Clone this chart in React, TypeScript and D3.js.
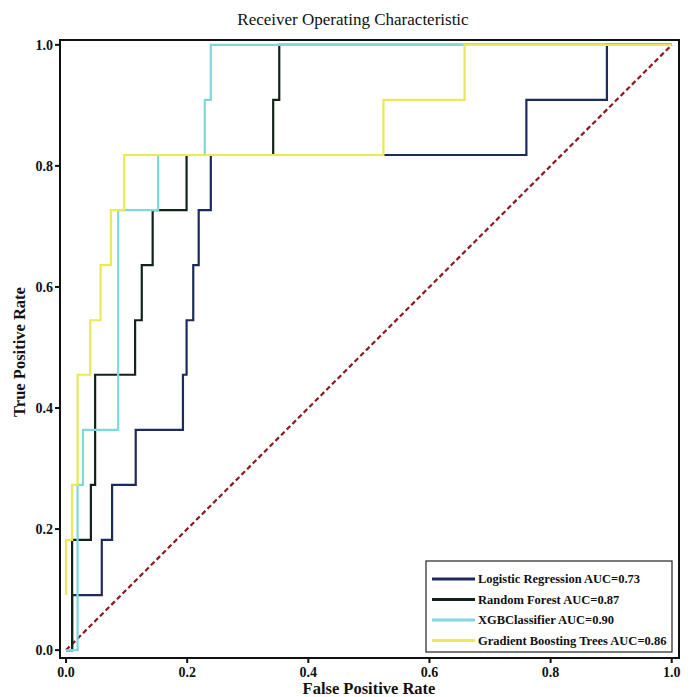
import React from "react";
import * as d3 from "d3";

const seriesNames = [
  "Logistic Regression AUC=0.73",
  "Random Forest AUC=0.87",
  "XGBClassifier AUC=0.90",
  "Gradient Boosting Trees AUC=0.86",
];
const seriesColors = ["#1d2a5c", "#12241a", "#7fd9dc", "#e9ea55"];

// ROC points (step curves)
const lrFpr = [0, 0.01, 0.01, 0.059, 0.059, 0.076, 0.076, 0.115, 0.115, 0.193, 0.193, 0.199, 0.199, 0.21, 0.21, 0.219, 0.219, 0.239, 0.239, 0.76, 0.76, 0.893, 0.893, 1.0];
const lrTpr = [0, 0, 0.091, 0.091, 0.182, 0.182, 0.273, 0.273, 0.364, 0.364, 0.455, 0.455, 0.545, 0.545, 0.636, 0.636, 0.727, 0.727, 0.818, 0.818, 0.909, 0.909, 1.0, 1.0];

const rfFpr = [0, 0.01, 0.01, 0.041, 0.041, 0.048, 0.048, 0.114, 0.114, 0.125, 0.125, 0.143, 0.143, 0.199, 0.199, 0.342, 0.342, 0.352, 0.352, 1.0];
const rfTpr = [0, 0, 0.182, 0.182, 0.273, 0.273, 0.455, 0.455, 0.545, 0.545, 0.636, 0.636, 0.727, 0.727, 0.818, 0.818, 0.909, 0.909, 1.0, 1.0];

const xgbFpr = [0, 0.019, 0.019, 0.028, 0.028, 0.086, 0.086, 0.152, 0.152, 0.229, 0.229, 0.239, 0.239, 1.0];
const xgbTpr = [0, 0, 0.273, 0.273, 0.364, 0.364, 0.727, 0.727, 0.818, 0.818, 0.909, 0.909, 1.0, 1.0];

const gbFpr = [0, 0, 0.01, 0.01, 0.019, 0.019, 0.04, 0.04, 0.057, 0.057, 0.074, 0.074, 0.096, 0.096, 0.524, 0.524, 0.658, 0.658, 1.0];
const gbTpr = [0.091, 0.182, 0.182, 0.273, 0.273, 0.455, 0.455, 0.545, 0.545, 0.636, 0.636, 0.727, 0.727, 0.818, 0.818, 0.909, 0.909, 1.0, 1.0];

const tickValues = [0, 0.2, 0.4, 0.6, 0.8, 1.0];
const tickLabels = ["0.0", "0.2", "0.4", "0.6", "0.8", "1.0"];
const diagX = [0, 1];
const diagY = [0, 1];

const W = 692;
const H = 697;
const left = 60, right = 679, top = 40, bottom = 658;
const FONT = "'Liberation Serif', 'Times New Roman', serif";

export default function App() {
  const x = d3.scaleLinear().domain([-0.01, 1.012]).range([left, right]);
  const y = d3.scaleLinear().domain([-0.013, 1.008]).range([bottom, top]);
  const line = d3
    .line<[number, number]>()
    .x((d) => x(d[0]))
    .y((d) => y(d[1]));
  const zip = (a: number[], b: number[]) => a.map((v, i) => [v, b[i]] as [number, number]);
  const curves = [zip(lrFpr, lrTpr), zip(rfFpr, rfTpr), zip(xgbFpr, xgbTpr), zip(gbFpr, gbTpr)];

  const legX = 426, legY = 561, legW = 246, legH = 91;
  return (
    <svg width={W} height={H} style={{ position: "absolute", left: 0, top: 0, background: "#fff" }}>
      <rect x={0} y={0} width={W} height={H} fill="#fff" />
      <text x={353} y={25} textAnchor="middle" fontFamily={FONT} fontSize={17} fill="#111">
        Receiver Operating Characteristic
      </text>
      <defs>
        <clipPath id="plotclip">
          <rect x={left} y={top} width={right - left} height={bottom - top} />
        </clipPath>
      </defs>
      <g clipPath="url(#plotclip)">
        <path
          d={line(zip(diagX, diagY)) || ""}
          fill="none"
          stroke="#8b1a1f"
          strokeWidth={2.2}
          strokeDasharray="5,3"
        />
        {curves.map((c, i) => (
          <path key={i} d={line(c) || ""} fill="none" stroke={seriesColors[i]} strokeWidth={2.2} />
        ))}
      </g>
      <rect x={left} y={top} width={right - left} height={bottom - top} fill="none" stroke="#111" strokeWidth={2} />
      {tickValues.map((t, i) => (
        <g key={"x" + i}>
          <line x1={x(t)} x2={x(t)} y1={bottom} y2={bottom + 5} stroke="#111" strokeWidth={2} />
          <text x={x(t)} y={bottom + 19} textAnchor="middle" fontFamily={FONT} fontWeight="bold" fontSize={14} fill="#111">
            {tickLabels[i]}
          </text>
        </g>
      ))}
      {tickValues.map((t, i) => (
        <g key={"y" + i}>
          <line x1={left - 5} x2={left} y1={y(t)} y2={y(t)} stroke="#111" strokeWidth={2} />
          <text x={left - 7} y={y(t) + 5} textAnchor="end" fontFamily={FONT} fontWeight="bold" fontSize={14} fill="#111">
            {tickLabels[i]}
          </text>
        </g>
      ))}
      <text x={369} y={694} textAnchor="middle" fontFamily={FONT} fontWeight="bold" fontSize={16.5} fill="#111">
        False Positive Rate
      </text>
      <text
        transform={`translate(25, 352) rotate(-90)`}
        textAnchor="middle"
        fontFamily={FONT}
        fontWeight="bold"
        fontSize={16.5}
        fill="#111"
      >
        True Positive Rate
      </text>
      <rect x={legX} y={legY} width={legW} height={legH} fill="#fff" stroke="#222" strokeWidth={1.2} />
      {seriesNames.map((n, i) => {
        const cy = legY + 18 + i * 20.5;
        return (
          <g key={"l" + i}>
            <line x1={432} x2={475} y1={cy} y2={cy} stroke={seriesColors[i]} strokeWidth={3} />
            <text x={478} y={cy + 4} fontFamily={FONT} fontWeight="bold" fontSize={12.5} fill="#111">
              {n}
            </text>
          </g>
        );
      })}
    </svg>
  );
}
